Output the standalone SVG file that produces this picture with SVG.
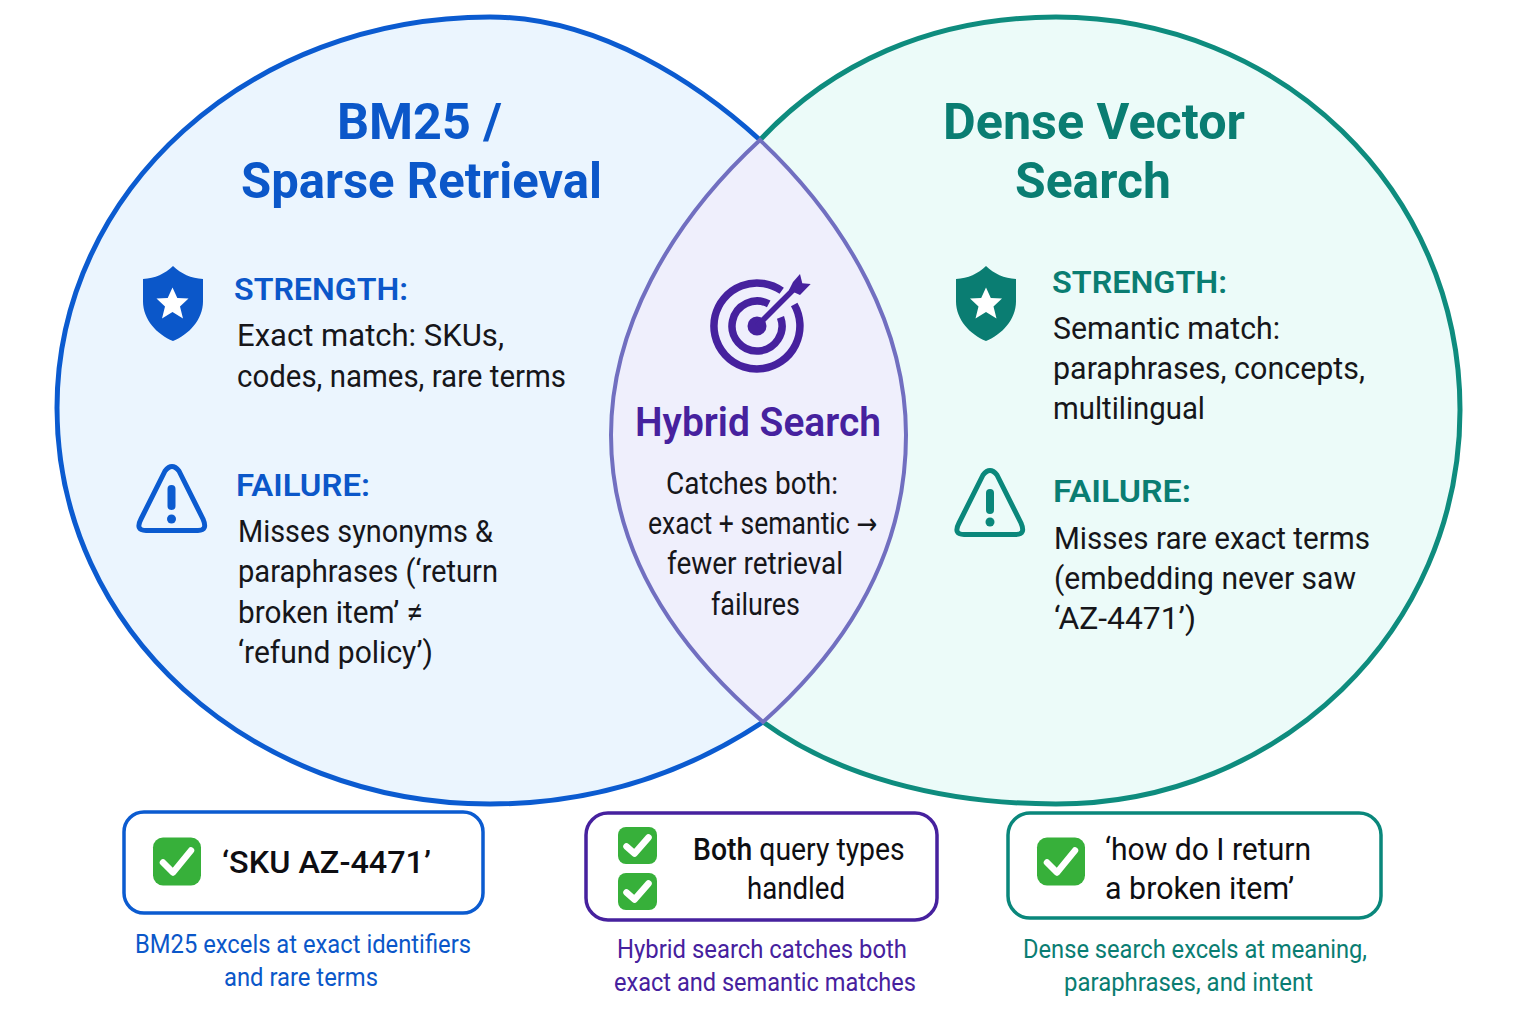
<svg xmlns="http://www.w3.org/2000/svg" width="1536" height="1024" viewBox="0 0 1536 1024">
<style>
text{font-family:"Roboto","Liberation Sans",sans-serif}
.ttl{font-size:50px;font-weight:700}
.hd{font-size:32px;font-weight:600}
.bd{font-size:32px;fill:#16161a}
.cap{font-size:25px;font-weight:400}
.q{font-size:32px;font-weight:400;fill:#0e0e12}
.m{font-weight:500}
.blue{fill:#0b57c9}.teal{fill:#0a7d72}.purple{fill:#46219e}
.box{fill:#fff;stroke-width:3.500}
.chk{fill:#37b03a}
.tick{fill:none;stroke:#fff;stroke-width:6.500;stroke-linecap:round;stroke-linejoin:round}
.arc{fill:none;stroke-width:5}
</style>
<defs>
<g id="c"><rect x="-24" y="-24" width="48" height="48" rx="10" class="chk"/><path d="M-14 1L-4 11L14 -11" class="tick"/></g>
<g id="cs"><rect x="-19.500" y="-18.500" width="39" height="37" rx="8" class="chk"/><path d="M-11 1L-3 8L11 -8" class="tick"/></g>
<path id="shield" d="M0 -37.500C-8 -30 -18 -25 -30 -24.500V-2C-30 16 -16 31 0 37.500C16 31 30 16 30 -2V-24.500C18 -25 8 -30 0 -37.500Z"/>
<path id="star" d="M0 -16.500L4.800 -6L16 -5.500L7.500 2.500L10.500 14.500L0 8L-10.500 14.500L-7.500 2.500L-16 -5.500L-4.800 -6Z"/>
</defs>
<rect width="1536" height="1024" fill="#fff"/>
<g id="regions">
<path fill="#ebf5fe" d="M760 140C700 85 600 17 490 17C250 17 57 190 57 408C57 630 250 804 490 804C600 804 690 770 763 722C855 640 906 545 906 435C906 330 850 225 760 140Z"/>
<path fill="#ecfbf9" d="M760 140C830 65 930 17 1056 17C1280 17 1460 190 1460 410C1460 630 1280 804 1056 804C940 804 835 775 763 722C855 640 906 545 906 435C906 330 850 225 760 140Z"/>
<path fill="#efeffc" d="M760 140C850 225 906 330 906 435C906 545 855 640 763 722C668 640 611 545 611 435C611 330 668 225 760 140Z"/>
</g>
<g id="connectors">
<path class="arc" stroke="#0b5bd0" d="M760 140C700 85 600 17 490 17C250 17 57 190 57 408C57 630 250 804 490 804C600 804 690 770 763 722"/>
<path class="arc" stroke="#0e8c7e" d="M760 140C830 65 930 17 1056 17C1280 17 1460 190 1460 410C1460 630 1280 804 1056 804C940 804 835 775 763 722"/>
<path fill="none" stroke="#716fc0" stroke-width="4" d="M760 140C850 225 906 330 906 435C906 545 855 640 763 722C668 640 611 545 611 435C611 330 668 225 760 140Z"/>
</g>
<g id="node-bm25">
<text class="ttl blue" x="337" y="139" textLength="165" lengthAdjust="spacingAndGlyphs">BM25 /</text>
<text class="ttl blue" x="241" y="198" textLength="361" lengthAdjust="spacingAndGlyphs">Sparse Retrieval</text>
<use href="#shield" x="173" y="303.500" class="blue"/>
<use href="#star" x="172.500" y="304" fill="#fff"/>
<text class="hd blue" x="234" y="300" textLength="174" lengthAdjust="spacingAndGlyphs">STRENGTH:</text>
<text class="bd" x="237" y="346" textLength="267" lengthAdjust="spacingAndGlyphs">Exact match: SKUs,</text>
<text class="bd" x="237" y="386.500" textLength="329" lengthAdjust="spacingAndGlyphs">codes, names, rare terms</text>
<path d="M165 471Q172 462 179 471L203 519Q208 530.500 198 530.500H146Q135 530.500 141 519Z" fill="none" stroke="#0b5bd0" stroke-width="5" stroke-linejoin="round"/>
<rect x="167.500" y="485" width="8" height="25" rx="4" fill="#0b5bd0"/><circle cx="171.500" cy="519" r="4.500" fill="#0b5bd0"/>
<text class="hd blue" x="236" y="496" textLength="134" lengthAdjust="spacingAndGlyphs">FAILURE:</text>
<text class="bd" x="238" y="542" textLength="255" lengthAdjust="spacingAndGlyphs">Misses synonyms &amp;</text>
<text class="bd" x="238" y="582" textLength="260" lengthAdjust="spacingAndGlyphs">paraphrases (‘return</text>
<text class="bd" x="238" y="623" textLength="185" lengthAdjust="spacingAndGlyphs">broken item’ ≠</text>
<text class="bd" x="238" y="663" textLength="195" lengthAdjust="spacingAndGlyphs">‘refund policy’)</text>
</g>
<g id="node-hybrid">
<g fill="none" stroke="#46219e" stroke-width="7.500">
<path d="M781.700 290.800A43 43 0 1 0 794.200 304.500"/>
<path d="M768.700 303.900A25 25 0 1 0 780.500 317.400"/>
</g>
<circle cx="757" cy="326" r="9.500" fill="#46219e"/>
<path d="M757 326L793 290" stroke="#46219e" stroke-width="5.500"/>
<path d="M800 274L802.300 283.300L810.700 284L800 295L789 290L793 282Z" fill="#46219e"/>
<text x="635" y="436" class="purple" font-size="40" font-weight="600" textLength="246" lengthAdjust="spacingAndGlyphs">Hybrid Search</text>
<text class="bd" x="666" y="494" textLength="172" lengthAdjust="spacingAndGlyphs">Catches both:</text>
<text class="bd" transform="translate(648 534) scale(.83 1)">exact + semantic <tspan font-family="DejaVu Sans" font-size="30">→</tspan></text>
<text class="bd" x="667" y="574" textLength="176" lengthAdjust="spacingAndGlyphs">fewer retrieval</text>
<text class="bd" x="711" y="615" textLength="89" lengthAdjust="spacingAndGlyphs">failures</text>
</g>
<g id="node-dense">
<text class="ttl teal" x="943" y="139" textLength="302" lengthAdjust="spacingAndGlyphs">Dense Vector</text>
<text class="ttl teal" x="1015" y="198" textLength="156" lengthAdjust="spacingAndGlyphs">Search</text>
<use href="#shield" x="986" y="303.500" class="teal"/>
<use href="#star" x="986" y="304" fill="#fff"/>
<text class="hd teal" x="1052" y="293" textLength="175" lengthAdjust="spacingAndGlyphs">STRENGTH:</text>
<text class="bd" x="1053" y="339" textLength="227" lengthAdjust="spacingAndGlyphs">Semantic match:</text>
<text class="bd" x="1053" y="379" textLength="312" lengthAdjust="spacingAndGlyphs">paraphrases, concepts,</text>
<text class="bd" x="1053" y="419" textLength="152" lengthAdjust="spacingAndGlyphs">multilingual</text>
<path d="M983 475Q990 466 997 475L1021 523Q1026 534.500 1016 534.500H964Q953 534.500 959 523Z" fill="none" stroke="#0a877b" stroke-width="5" stroke-linejoin="round"/>
<rect x="986" y="489" width="8" height="25" rx="4" fill="#0a877b"/><circle cx="990" cy="522" r="4.500" fill="#0a877b"/>
<text class="hd teal" x="1053" y="502" textLength="138" lengthAdjust="spacingAndGlyphs">FAILURE:</text>
<text class="bd" x="1054" y="549" textLength="316" lengthAdjust="spacingAndGlyphs">Misses rare exact terms</text>
<text class="bd" x="1054" y="589" textLength="302" lengthAdjust="spacingAndGlyphs">(embedding never saw</text>
<text class="bd" x="1054" y="629" textLength="142" lengthAdjust="spacingAndGlyphs">‘AZ-4471’)</text>
</g>
<g id="node-ex-bm25">
<rect class="box" x="124" y="812" width="359" height="101" rx="20" stroke="#0b5bd0"/>
<use href="#c" x="177" y="861.500"/>
<text class="q m" x="222" y="873" textLength="209" lengthAdjust="spacingAndGlyphs">‘SKU AZ-4471’</text>
<text class="cap blue" x="135" y="953" textLength="336" lengthAdjust="spacingAndGlyphs">BM25 excels at exact identifiers</text>
<text class="cap blue" x="224" y="986" textLength="154" lengthAdjust="spacingAndGlyphs">and rare terms</text>
</g>
<g id="node-ex-hybrid">
<rect class="box" x="586" y="813" width="351" height="107" rx="22" stroke="#46219e"/>
<use href="#cs" x="637.500" y="845.500"/>
<use href="#cs" x="637.500" y="891.500"/>
<text class="q" transform="translate(693 860) scale(.887 1)"><tspan class="m">Both</tspan> query types</text>
<text class="q" x="747" y="899" textLength="98" lengthAdjust="spacingAndGlyphs">handled</text>
<text class="cap purple" x="617" y="958" textLength="290" lengthAdjust="spacingAndGlyphs">Hybrid search catches both</text>
<text class="cap purple" x="614" y="991" textLength="302" lengthAdjust="spacingAndGlyphs">exact and semantic matches</text>
</g>
<g id="node-ex-dense">
<rect class="box" x="1008" y="813" width="373" height="105" rx="22" stroke="#0a877b"/>
<use href="#c" x="1061" y="861.500"/>
<text class="q" x="1105" y="860" textLength="206" lengthAdjust="spacingAndGlyphs">‘how do I return</text>
<text class="q" x="1105" y="899" textLength="189" lengthAdjust="spacingAndGlyphs">a broken item’</text>
<text class="cap teal" x="1023" y="958" textLength="344" lengthAdjust="spacingAndGlyphs">Dense search excels at meaning,</text>
<text class="cap teal" x="1064" y="991" textLength="249" lengthAdjust="spacingAndGlyphs">paraphrases, and intent</text>
</g>
</svg>
